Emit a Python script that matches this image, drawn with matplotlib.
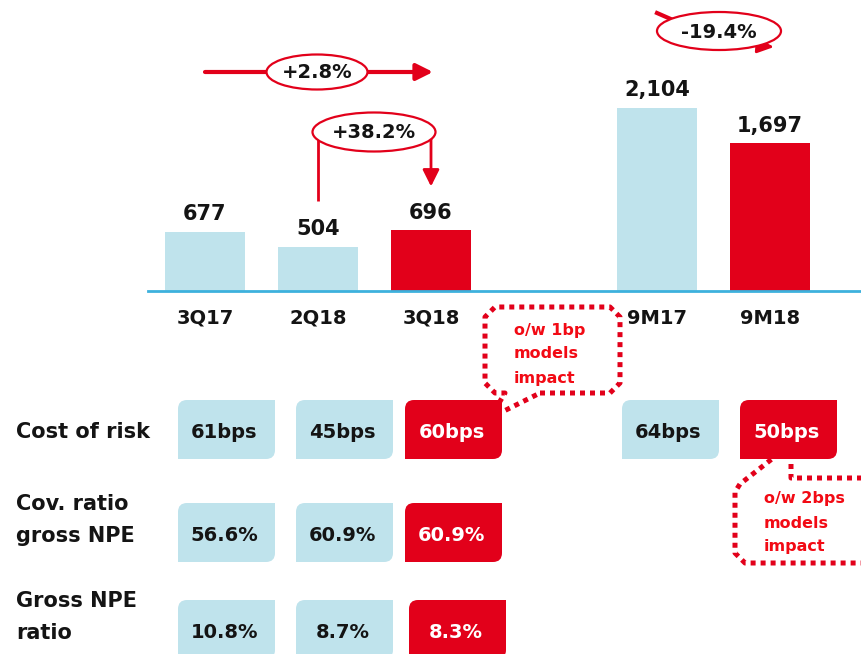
import matplotlib.pyplot as plt
from matplotlib.patches import Ellipse, PathPatch
from matplotlib.path import Path

# ---- data
categories = ['3Q17', '2Q18', '3Q18', '9M17', '9M18']
loan_loss_provisions = [677, 504, 696, 2104, 1697]
is_current = [False, False, True, False, True]
changes = ['+2.8%', '+38.2%', '-19.4%']

row_labels = ['Cost of risk', 'Cov. ratio\ngross NPE', 'Gross NPE\nratio']
cost_of_risk = ['61bps', '45bps', '60bps', '64bps', '50bps']
cov_ratio = ['56.6%', '60.9%', '60.9%']
npe_ratio = ['10.8%', '8.7%', '8.3%']
note_quarter = 'o/w 1bp\nmodels\nimpact'
note_9m = 'o/w 2bps\nmodels\nimpact'

RED = '#E2001A'
LBLUE = '#BFE3EC'
LINE = '#3DB1DD'
TXT = '#141414'
NOTE = '#F20A14'

W, H = 861, 654
plt.rcParams['font.family'] = 'DejaVu Sans'
fig = plt.figure(figsize=(W / 100, H / 100), dpi=100)

# ---- bars
ax = fig.add_axes([148 / W, (H - 291) / H, (W - 148) / W, 291 / H])
positions = [0, 1, 2, 4, 5]
colors = [RED if c else LBLUE for c in is_current]
ax.bar(positions, loan_loss_provisions, width=0.71, color=colors)
ax.set_xlim((148 - 205) / 113, (861 - 205) / 113)
ax.set_ylim(0, 2104 * 291 / 183)
ax.axis('off')
ax.axhline(0, color=LINE, lw=2, clip_on=False)
for p, v, c in zip(positions, loan_loss_provisions, categories):
    ax.annotate(f'{v:,}', (p, v), xytext=(0, 8.5), textcoords='offset points',
                ha='center', va='baseline', fontsize=15, fontweight='bold', color=TXT)
    ax.annotate(c, (p, 0), xytext=(0, -19.5), textcoords='offset points',
                ha='center', va='center', fontsize=14, fontweight='bold', color=TXT,
                annotation_clip=False)

# overlay in pixel coords
ov = fig.add_axes([0, 0, 1, 1])
ov.set_xlim(0, W)
ov.set_ylim(H, 0)
ov.axis('off')
fig.canvas.draw()


def px(x, y):
    d = ax.transData.transform((x, y))
    return d[0], H - d[1]


cx = [px(p, 0)[0] for p in positions]
tops = [px(p, v)[1] for p, v in zip(positions, loan_loss_provisions)]


def bubble(x, y, w, h, text):
    ov.add_patch(Ellipse((x, y), w, h, fc='white', ec=RED, lw=1.6, zorder=3))
    ov.text(x, y + 1, text, ha='center', va='center', fontsize=14,
            fontweight='bold', color=TXT, zorder=4)


# +2.8%
ov.annotate('', xy=(433, 72), xytext=(cx[0], 72),
            arrowprops=dict(arrowstyle='-|>,head_length=1.0,head_width=0.5',
                            color=RED, lw=3, shrinkA=0, shrinkB=0))
bubble(317, 72, 101, 35, changes[0])

# +38.2%
ov.plot([cx[1], cx[1], cx[2]], [tops[1] - 46, 132, 132], color=RED, lw=2, solid_capstyle='butt')
ov.annotate('', xy=(cx[2], tops[2] - 44), xytext=(cx[2], 131),
            arrowprops=dict(arrowstyle='-|>,head_length=1.0,head_width=0.5',
                            color=RED, lw=2, shrinkA=0, shrinkB=0))
bubble(374, 132, 123, 39, changes[1])

# -19.4%
ov.plot([657, 673], [13, 20], color=RED, lw=3)
ov.annotate('', xy=(774, 47), xytext=(750, 45),
            arrowprops=dict(arrowstyle='-|>,head_length=1.0,head_width=0.45',
                            color=RED, lw=2, shrinkA=0, shrinkB=0))
bubble(719, 31, 124, 38, changes[2])


# ---- table
def leaf(x0, y0, x1, y1, r=9):
    verts = [(x0, y0 + r), (x0, y0), (x0 + r, y0), (x1, y0), (x1, y1 - r),
             (x1, y1), (x1 - r, y1), (x0, y1), (x0, y0 + r)]
    codes = [Path.MOVETO, Path.CURVE3, Path.CURVE3, Path.LINETO, Path.LINETO,
             Path.CURVE3, Path.CURVE3, Path.LINETO, Path.CLOSEPOLY]
    return Path(verts, codes)


col_left = [178, 296, 405, 622, 740]
row_top = [400, 503, 600]
box_w, box_h = 97, 59
rows = [cost_of_risk, cov_ratio, npe_ratio]

for r, (lab, vals) in enumerate(zip(row_labels, rows)):
    lines = lab.split('\n')
    y_first = row_top[r] + 32 if len(lines) == 1 else row_top[r] + 1
    for i, ln in enumerate(lines):
        ov.text(16, y_first + i * 32, ln, ha='left', va='center',
                fontsize=15, fontweight='bold', color=TXT)
    for c, v in enumerate(vals):
        red = is_current[c]
        x0 = col_left[c] + (4 if (r == 2 and c == 2) else 0)
        y0 = row_top[r]
        ov.add_patch(PathPatch(leaf(x0, y0, x0 + box_w, y0 + box_h),
                               fc=RED if red else LBLUE, ec='none', zorder=2))
        ov.text(x0 + box_w / 2 - 2, y0 + box_h / 2 + 3, v, ha='center', va='center',
                fontsize=14, fontweight='bold', color='white' if red else TXT, zorder=3)

# ---- dotted call-outs
dot = dict(color=RED, lw=3.6, linestyle=(0, (1, 1)), zorder=5, solid_capstyle='butt')
c1x = [540, 610, 620, 620, 610, 495, 485, 485, 495, 505, 490, 540]
c1y = [393, 393, 383, 317, 307, 307, 317, 383, 393, 393, 418, 393]
ov.plot(c1x, c1y, **dot)
for i, ln in enumerate(note_quarter.split('\n')):
    ov.text(514, 330 + i * 24, ln, ha='left', va='center', fontsize=11.5,
            fontweight='bold', color=NOTE)

c2x = [870, 791, 791, 740, 735, 735, 745, 870]
c2y = [478, 478, 444, 484, 492, 553, 563, 563]
ov.plot(c2x, c2y, **dot)
for i, ln in enumerate(note_9m.split('\n')):
    ov.text(764, 499 + i * 24, ln, ha='left', va='center', fontsize=11.5,
            fontweight='bold', color=NOTE)

fig.savefig('out.png', dpi=100)
